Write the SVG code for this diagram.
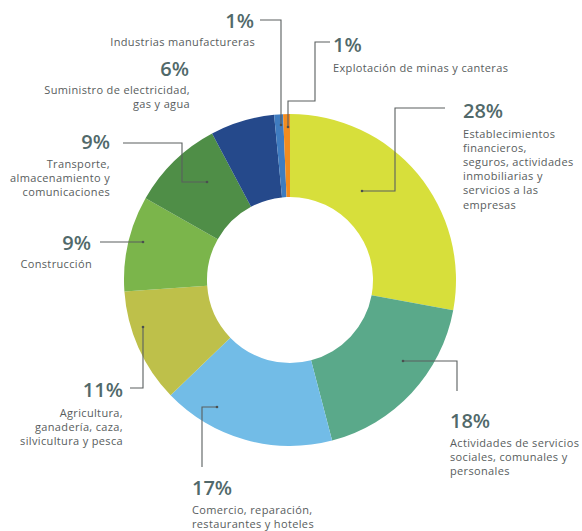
<svg xmlns="http://www.w3.org/2000/svg" width="582" height="531" viewBox="0 0 582 531">
<defs>
<marker id="dot" viewBox="0 0 4 4" refX="2" refY="2" markerWidth="3" markerHeight="3" markerUnits="strokeWidth"><circle cx="2" cy="2" r="1.6" fill="#4a4f4f"/></marker>
<style>
.pct{font-family:"Open Sans","Liberation Sans",sans-serif;font-size:20px;font-weight:600;fill:#51696a}
.lbl{font-family:"Open Sans","Liberation Sans",sans-serif;font-size:11px;fill:#585d5d;letter-spacing:0.35px}
.r{text-anchor:end}
.lead{fill:none;stroke:#5a5f5f;stroke-width:1.1;marker-end:url(#dot)}
</style>
</defs>
<rect width="582" height="531" fill="#ffffff"/>
<g id="donut">
<path id="s-financieros" d="M290,114 A166,166 0 0 1 453.22,310.25 L371.61,295.13 A83,83 0 0 0 290,197 Z" fill="#d7df3b"/>
<path id="s-sociales" d="M453.22,310.25 A166,166 0 0 1 332.12,440.57 L311.06,360.28 A83,83 0 0 0 371.61,295.13 Z" fill="#5aa98a"/>
<path id="s-comercio" d="M332.12,440.57 A166,166 0 0 1 170.59,395.31 L230.29,337.66 A83,83 0 0 0 311.06,360.28 Z" fill="#72bce7"/>
<path id="s-agricultura" d="M170.59,395.31 A166,166 0 0 1 124.41,291.58 L207.20,285.79 A83,83 0 0 0 230.29,337.66 Z" fill="#bec04a"/>
<path id="s-construccion" d="M124.41,291.58 A166,166 0 0 1 145.52,198.26 L217.76,239.13 A83,83 0 0 0 207.20,285.79 Z" fill="#7bb54b"/>
<path id="s-transporte" d="M145.52,198.26 A166,166 0 0 1 212.07,133.43 L251.03,206.72 A83,83 0 0 0 217.76,239.13 Z" fill="#4f8e47"/>
<path id="s-electricidad" d="M212.07,133.43 A166,166 0 0 1 274.09,114.76 L282.04,197.38 A83,83 0 0 0 251.03,206.72 Z" fill="#25498b"/>
<path id="s-industrias" d="M274.09,114.76 A166,166 0 0 1 283.05,114.15 L286.52,197.07 A83,83 0 0 0 282.04,197.38 Z" fill="#3f7cc0"/>
<path id="s-minas" d="M283.05,114.15 A166,166 0 0 1 290,114 L290,197 A83,83 0 0 0 286.52,197.07 Z" fill="#f28c1e"/>
</g>
<g id="connectors">
<polyline class="lead" points="260,20 281,20 281,125"/>
<polyline class="lead" points="330,42 315,42 315,101 288,101 288,127"/>
<polyline class="lead" points="445,108 395,108 395,191 362,191"/>
<polyline class="lead" points="123,143 182,143 182,182 207,182"/>
<polyline class="lead" points="100,242 143,242"/>
<polyline class="lead" points="130,388 143,388 143,327"/>
<polyline class="lead" points="202,467 202,407 217,407"/>
<polyline class="lead" points="457,391 457,361 403,361"/>
</g>
<g id="n-industrias">
<text class="pct r" x="254" y="28">1%</text>
<text class="lbl r" x="255" y="46">Industrias manufactureras</text>
</g>
<g id="n-electricidad">
<text class="pct r" x="189" y="76">6%</text>
<text class="lbl r" x="190" y="94">Suministro de electricidad,</text>
<text class="lbl r" x="190" y="108">gas y agua</text>
</g>
<g id="n-minas">
<text class="pct" x="333" y="52">1%</text>
<text class="lbl" x="333" y="72">Explotación de minas y canteras</text>
</g>
<g id="n-financieros">
<text class="pct" x="463" y="118">28%</text>
<text class="lbl" x="463" y="138">Establecimientos</text>
<text class="lbl" x="463" y="152">financieros,</text>
<text class="lbl" x="463" y="166">seguros, actividades</text>
<text class="lbl" x="463" y="180">inmobiliarias y</text>
<text class="lbl" x="463" y="194">servicios a las</text>
<text class="lbl" x="463" y="209">empresas</text>
</g>
<g id="n-transporte">
<text class="pct r" x="110" y="149">9%</text>
<text class="lbl r" x="110" y="168">Transporte,</text>
<text class="lbl r" x="110" y="182">almacenamiento y</text>
<text class="lbl r" x="110" y="196">comunicaciones</text>
</g>
<g id="n-construccion">
<text class="pct r" x="91" y="250">9%</text>
<text class="lbl r" x="92" y="268">Construcción</text>
</g>
<g id="n-agricultura">
<text class="pct r" x="123" y="397">11%</text>
<text class="lbl r" x="123" y="417">Agricultura,</text>
<text class="lbl r" x="123" y="431">ganadería, caza,</text>
<text class="lbl r" x="123" y="445">silvicultura y pesca</text>
</g>
<g id="n-comercio">
<text class="pct" x="192" y="495">17%</text>
<text class="lbl" x="192" y="514">Comercio, reparación,</text>
<text class="lbl" x="192" y="528">restaurantes y hoteles</text>
</g>
<g id="n-sociales">
<text class="pct" x="450" y="428">18%</text>
<text class="lbl" x="450" y="447">Actividades de servicios</text>
<text class="lbl" x="450" y="461">sociales, comunales y</text>
<text class="lbl" x="450" y="475">personales</text>
</g>
</svg>
